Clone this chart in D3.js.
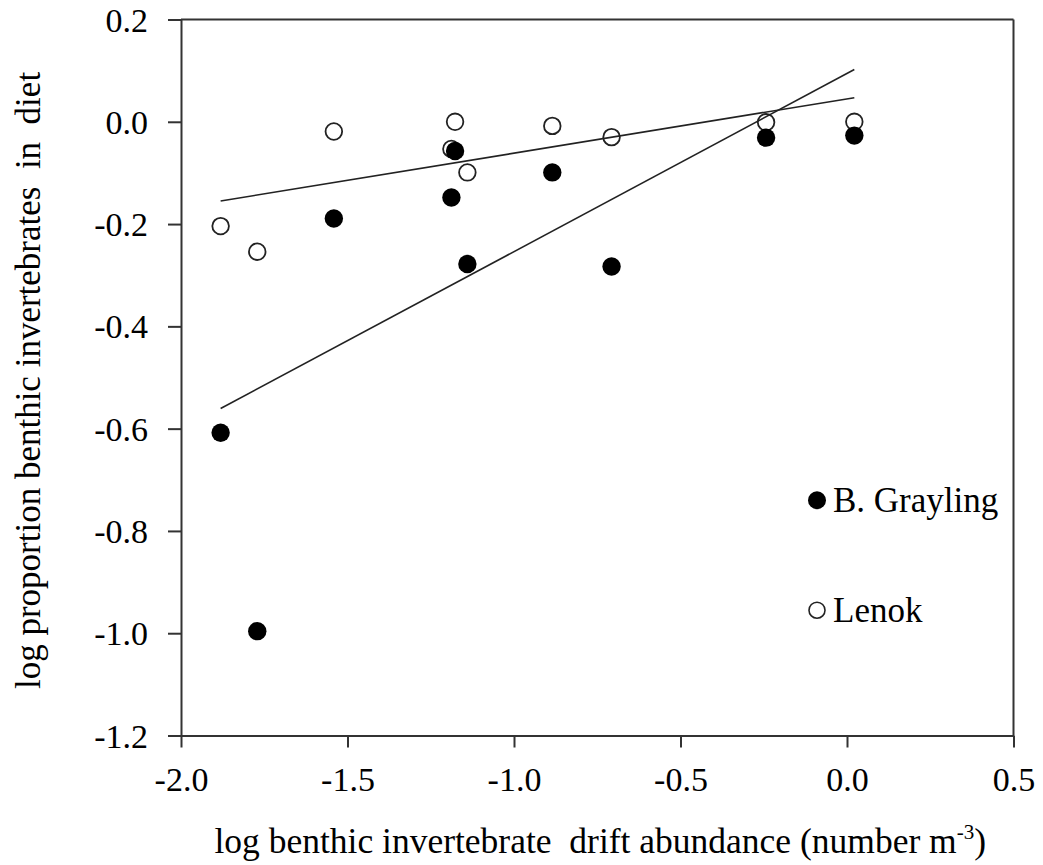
<!DOCTYPE html>
<html>
<head>
<meta charset="utf-8">
<script src="https://cdn.jsdelivr.net/npm/d3@7"></script>
<style>
  html, body { margin: 0; padding: 0; background: #fff; }
  svg { display: block; }
  svg text { font-family: "Liberation Serif", "Times New Roman", serif !important; fill: #000; }
</style>
</head>
<body>
<svg id="chart" width="1043" height="865"></svg>
<script>
// ---- data ----
const driftAbundance = [-1.881, -1.771, -1.541, -1.188, -1.177, -1.140, -0.885, -0.707, -0.243, 0.022];
const graylingDiet  = [-0.608, -0.996, -0.189, -0.148, -0.057, -0.278, -0.099, -0.283, -0.031, -0.027];
const lenokDiet     = [-0.204, -0.254, -0.019, -0.053,  0.000, -0.099, -0.008, -0.030, -0.001,  0.000];
const xTicks = [-2.0, -1.5, -1.0, -0.5, 0.0, 0.5];
const yTicks = [0.2, 0.0, -0.2, -0.4, -0.6, -0.8, -1.0, -1.2];
const seriesNames = ["B. Grayling", "Lenok"];
const xTitle = "log benthic invertebrate  drift abundance (number m";
const yTitle = "log proportion benthic invertebrates  in  diet";

// ---- layout ----
const svg = d3.select("#chart");
const pL = 181, pR = 1013.5, pT = 19.5, pB = 735.5;
const x = d3.scaleLinear().domain([-2.0, 0.5]).range([pL, pR]);
const y = d3.scaleLinear().domain([-1.2, 0.2]).range([pB, pT]);
const axisColor = "#333";
const serif = '"Liberation Serif", "Times New Roman", serif';
const fmt = d => d3.format(".1f")(d).replace("−", "-");

// frame: top and right
svg.append("line").attr("x1", pL).attr("x2", pR).attr("y1", pT).attr("y2", pT)
  .attr("stroke", axisColor).attr("stroke-width", 2);
svg.append("line").attr("x1", pR).attr("x2", pR).attr("y1", pT).attr("y2", pB)
  .attr("stroke", axisColor).attr("stroke-width", 2);

// x axis
const xAxis = svg.append("g").attr("transform", `translate(0,${pB})`)
  .call(d3.axisBottom(x).tickValues(xTicks).tickFormat(fmt)
        .tickSizeInner(12).tickSizeOuter(0).tickPadding(20));
xAxis.attr("font-family", null).style("font-family", serif);
xAxis.select(".domain").attr("stroke", axisColor).attr("stroke-width", 2);
xAxis.selectAll(".tick line").attr("stroke", axisColor).attr("stroke-width", 2);
xAxis.selectAll(".tick text").attr("font-size", 34).attr("fill", "#000")
  .style("font-family", serif).attr("dy", null).attr("y", 55);

// y axis
const yAxis = svg.append("g").attr("transform", `translate(${pL},0)`)
  .call(d3.axisLeft(y).tickValues(yTicks).tickFormat(fmt)
        .tickSizeInner(13).tickSizeOuter(0).tickPadding(20));
yAxis.attr("font-family", null).style("font-family", serif);
yAxis.select(".domain").attr("stroke", axisColor).attr("stroke-width", 2);
yAxis.selectAll(".tick line").attr("stroke", axisColor).attr("stroke-width", 2);
yAxis.selectAll(".tick text").attr("font-size", 34).attr("fill", "#000")
  .style("font-family", serif).attr("x", -33).attr("dy", "0.34em");

// axis titles
const xt = svg.append("text").attr("x", (pL + pR) / 2 + 3).attr("y", 853)
  .attr("text-anchor", "middle").attr("font-size", 35.5).style("white-space", "pre");
xt.append("tspan").text(xTitle);
xt.append("tspan").text("-3").attr("font-size", 21).attr("dy", -14);
xt.append("tspan").text(")").attr("dy", 14);

svg.append("text")
  .attr("transform", `translate(40,${(pT + pB) / 2 + 3}) rotate(-90)`)
  .attr("text-anchor", "middle").attr("font-size", 35)
  .style("white-space", "pre").text(yTitle);

// points
const lenokPts = driftAbundance.map((d, i) => ({ x: d, y: lenokDiet[i] }));
const grayPts = driftAbundance.map((d, i) => ({ x: d, y: graylingDiet[i] }));

svg.append("g").selectAll("circle").data(lenokPts).join("circle")
  .attr("cx", d => x(d.x)).attr("cy", d => y(d.y)).attr("r", 8.3)
  .attr("fill", "#fff").attr("stroke", "#222").attr("stroke-width", 1.8);
svg.append("g").selectAll("circle").data(grayPts).join("circle")
  .attr("cx", d => x(d.x)).attr("cy", d => y(d.y)).attr("r", 9.2)
  .attr("fill", "#000");

// least-squares regression lines over the data range
function fit(xs, ys) {
  const mx = d3.mean(xs), my = d3.mean(ys);
  const b = d3.sum(xs, (v, i) => (v - mx) * (ys[i] - my)) / d3.sum(xs, v => (v - mx) ** 2);
  return v => my + b * (v - mx);
}
const [xmin, xmax] = d3.extent(driftAbundance);
[graylingDiet, lenokDiet].forEach(ys => {
  const f = fit(driftAbundance, ys);
  svg.append("line")
    .attr("x1", x(xmin)).attr("y1", y(f(xmin)))
    .attr("x2", x(xmax)).attr("y2", y(f(xmax)))
    .attr("stroke", "#222").attr("stroke-width", 1.6);
});

// legend
const legend = svg.append("g");
const legY = [-0.74, -0.955];
seriesNames.forEach((name, i) => {
  const cy = y(legY[i]);
  const c = legend.append("circle").attr("cx", 817).attr("cy", cy);
  if (i === 0) c.attr("r", 9).attr("fill", "#000");
  else c.attr("r", 8).attr("fill", "#fff").attr("stroke", "#222").attr("stroke-width", 1.6);
  legend.append("text").attr("x", 833).attr("y", cy + 12).attr("font-size", 35).text(name);
});
</script>
</body>
</html>
